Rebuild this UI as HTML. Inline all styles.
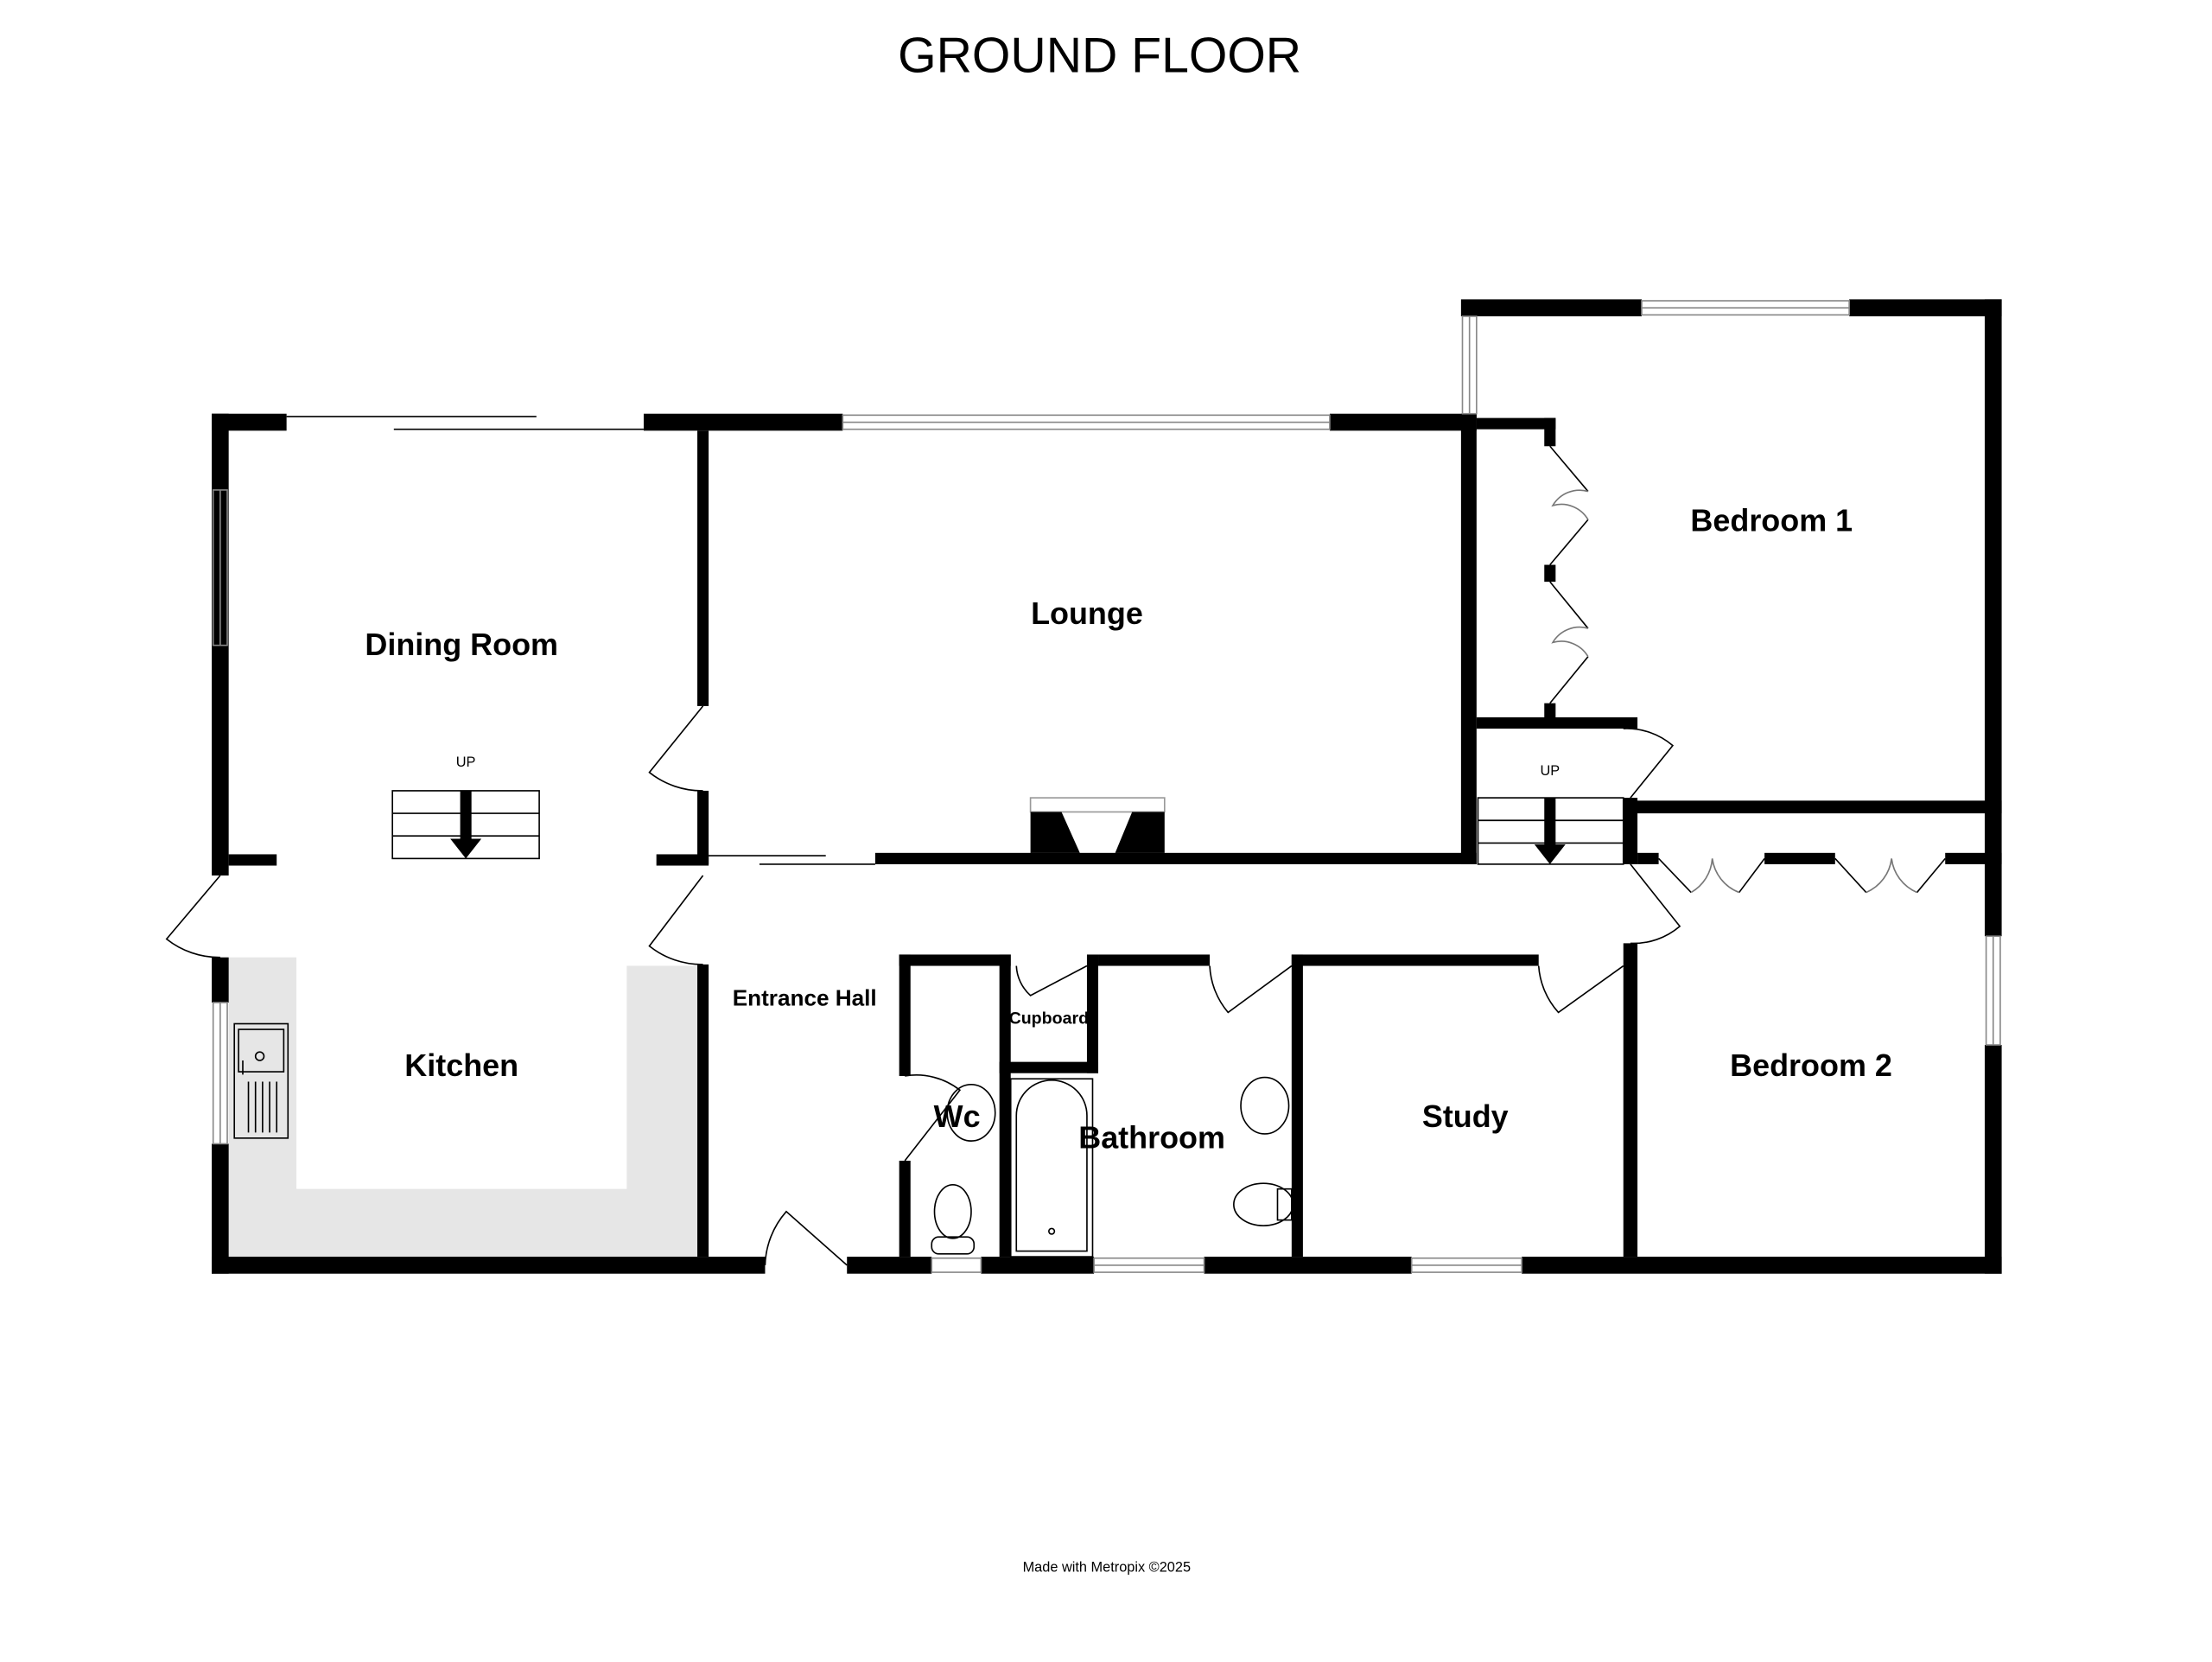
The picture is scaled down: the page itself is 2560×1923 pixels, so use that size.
<!DOCTYPE html>
<html><head><meta charset="utf-8"><style>html,body{margin:0;padding:0;background:#fff}svg{display:block}</style></head><body>
<svg width="2560" height="1923" viewBox="0 0 1567 1177" preserveAspectRatio="none" xmlns="http://www.w3.org/2000/svg" font-family="Liberation Sans, sans-serif">
<rect width="1567" height="1177" fill="#fff"/>
<text x="779" y="51" font-size="35" text-anchor="middle">GROUND FLOOR</text>
<path d="M162 678H210V842H444V684H494V890H162Z" fill="#e6e6e6"/>
<g fill="#000">
<rect x="150" y="293" width="12" height="327"/>
<rect x="150" y="678" width="12" height="32"/>
<rect x="150" y="810" width="12" height="92"/>
<rect x="150" y="293" width="53" height="12"/>
<rect x="456" y="293" width="141" height="12"/>
<rect x="942" y="293" width="104" height="12"/>
<rect x="1035" y="212" width="128" height="12"/>
<rect x="1310" y="212" width="108" height="12"/>
<rect x="1406" y="212" width="12" height="451"/>
<rect x="1406" y="740" width="12" height="162"/>
<rect x="150" y="890" width="392" height="12"/>
<rect x="600" y="890" width="60" height="12"/>
<rect x="695" y="890" width="80" height="12"/>
<rect x="853" y="890" width="147" height="12"/>
<rect x="1078" y="890" width="340" height="12"/>
<rect x="494" y="305" width="8" height="195"/>
<rect x="494" y="560" width="8" height="52"/>
<rect x="494" y="683" width="8" height="207"/>
<rect x="162" y="605" width="34" height="8"/>
<rect x="465" y="605" width="37" height="8"/>
<rect x="620" y="604" width="426" height="8"/>
<rect x="1035" y="293" width="11" height="319"/>
<rect x="1046" y="296" width="56" height="8"/>
<rect x="1094" y="296" width="8" height="20"/>
<rect x="1094" y="400" width="8" height="12"/>
<rect x="1094" y="498" width="8" height="12"/>
<rect x="1046" y="508" width="114" height="8"/>
<rect x="1150" y="565" width="10" height="47"/>
<rect x="1150" y="567" width="268" height="9"/>
<rect x="1160" y="604" width="15" height="8"/>
<rect x="1250" y="604" width="50" height="8"/>
<rect x="1378" y="604" width="40" height="8"/>
<rect x="1150" y="668" width="10" height="222"/>
<rect x="637" y="676" width="79" height="8"/>
<rect x="637" y="676" width="8" height="86"/>
<rect x="637" y="822" width="8" height="68"/>
<rect x="708" y="676" width="8" height="214"/>
<rect x="770" y="676" width="8" height="84"/>
<rect x="708" y="752" width="70" height="8"/>
<rect x="778" y="676" width="79" height="8"/>
<rect x="915" y="676" width="175" height="8"/>
<rect x="915" y="676" width="8" height="214"/>
</g>
<g fill="none" stroke="#888" stroke-width="1">
<rect x="597" y="294" width="345" height="10"/><line x1="597" y1="299" x2="942" y2="299"/>
<rect x="1163" y="213" width="147" height="10"/><line x1="1163" y1="218" x2="1310" y2="218"/>
<rect x="1036" y="224" width="10" height="69"/><line x1="1041" y1="224" x2="1041" y2="293"/>
<rect x="151" y="347" width="10" height="110"/><line x1="156" y1="347" x2="156" y2="457"/>
<rect x="151" y="710" width="10" height="100"/><line x1="156" y1="710" x2="156" y2="810"/>
<rect x="1407" y="663" width="10" height="77"/><line x1="1412" y1="663" x2="1412" y2="740"/>
<rect x="660" y="891" width="35" height="10"/>
<rect x="775" y="891" width="78" height="10"/><line x1="775" y1="896" x2="853" y2="896"/>
<rect x="1000" y="891" width="78" height="10"/><line x1="1000" y1="896" x2="1078" y2="896"/>
</g>
<g fill="none" stroke="#000" stroke-width="1">
<line x1="203" y1="295" x2="380" y2="295"/><line x1="279" y1="304" x2="456" y2="304"/>
<line x1="502" y1="606" x2="585" y2="606"/><line x1="538" y1="612" x2="620" y2="612"/>
<path d="M498 500L460 547A60 60 0 0 0 498 560"/>
<path d="M498 620L460 670A60 60 0 0 0 498 683"/>
<path d="M156 620L118 665A60 60 0 0 0 156 678"/>
<path d="M600 896L557 858A60 60 0 0 0 542 896"/>
<path d="M1098 316L1125 348M1125 368L1098 400M1098 412L1125 445M1125 465L1098 498"/>
<path d="M1125 348A22 22 0 0 0 1100 358A22 22 0 0 1 1125 368M1125 445A22 22 0 0 0 1100 455A22 22 0 0 1 1125 465" stroke="#777"/>
<path d="M1150 516A50 50 0 0 1 1185 528L1155 565"/>
<path d="M1155 612L1190 656A50 50 0 0 1 1155 668"/>
<path d="M1175 608L1198 632M1232 632L1250 608M1300 608L1322 632M1358 632L1378 608"/>
<path d="M1198 632A30 30 0 0 0 1213 608A30 30 0 0 0 1232 632M1322 632A30 30 0 0 0 1340 608A30 30 0 0 0 1358 632" stroke="#777"/>
<path d="M1090 684A55 55 0 0 0 1104 717L1150 684"/>
<path d="M857 684A55 55 0 0 0 870 717L915 684"/>
<path d="M720 684A30 30 0 0 0 730 705L770 684"/>
<path d="M641 762A50 50 0 0 1 680 772L641 822"/>
<rect x="278" y="560" width="104" height="48"/><line x1="278" y1="576" x2="382" y2="576"/><line x1="278" y1="592" x2="382" y2="592"/>
<rect x="1047" y="565" width="103" height="47"/><line x1="1047" y1="581" x2="1150" y2="581"/><line x1="1047" y1="597" x2="1150" y2="597"/>
<rect x="166" y="725" width="38" height="81"/><rect x="169" y="729" width="32" height="30"/>
<circle cx="184" cy="748" r="3"/>
<path d="M172 751v10M176 766v36M181 766v36M186 766v36M191 766v36M196 766v36"/>
<ellipse cx="688" cy="788" rx="17" ry="20"/>
<ellipse cx="675" cy="858" rx="13" ry="19"/><rect x="660" y="876" width="30" height="12" rx="5"/>
<rect x="716" y="764" width="58" height="126"/><path d="M720 886V790A25 25 0 0 1 770 790V886Z"/>
<circle cx="745" cy="872" r="2"/>
<ellipse cx="896" cy="783" rx="17" ry="20"/>
<ellipse cx="895" cy="853" rx="21" ry="15"/><rect x="905" y="842" width="10" height="22"/>
<rect x="730" y="565" width="95" height="10" stroke="#999"/>
</g>
<path d="M730 575H825V604H790L802 575H752L765 604H730Z" fill="#000"/>
<path d="M326 560h8v34h7l-11 14l-11-14h7z" fill="#000"/>
<path d="M1094 565h8v33h7l-11 14l-11-14h7z" fill="#000"/>
<g font-weight="bold" font-size="22" text-anchor="middle">
<text x="327" y="464">Dining Room</text>
<text x="770" y="442">Lounge</text>
<text x="1255" y="376">Bedroom 1</text>
<text x="327" y="762">Kitchen</text>
<text x="1283" y="762">Bedroom 2</text>
<text x="1038" y="798">Study</text>
<text x="816" y="813">Bathroom</text>
<text x="678" y="798">Wc</text>
<text x="570" y="712" font-size="16">Entrance Hall</text>
<text x="743" y="725" font-size="12">Cupboard</text>
</g>
<text x="330" y="543" font-size="10" text-anchor="middle">UP</text>
<text x="1098" y="549" font-size="10" text-anchor="middle">UP</text>
<text x="784" y="1113" font-size="10" text-anchor="middle">Made with Metropix ©2025</text>
</svg>
</body></html>
